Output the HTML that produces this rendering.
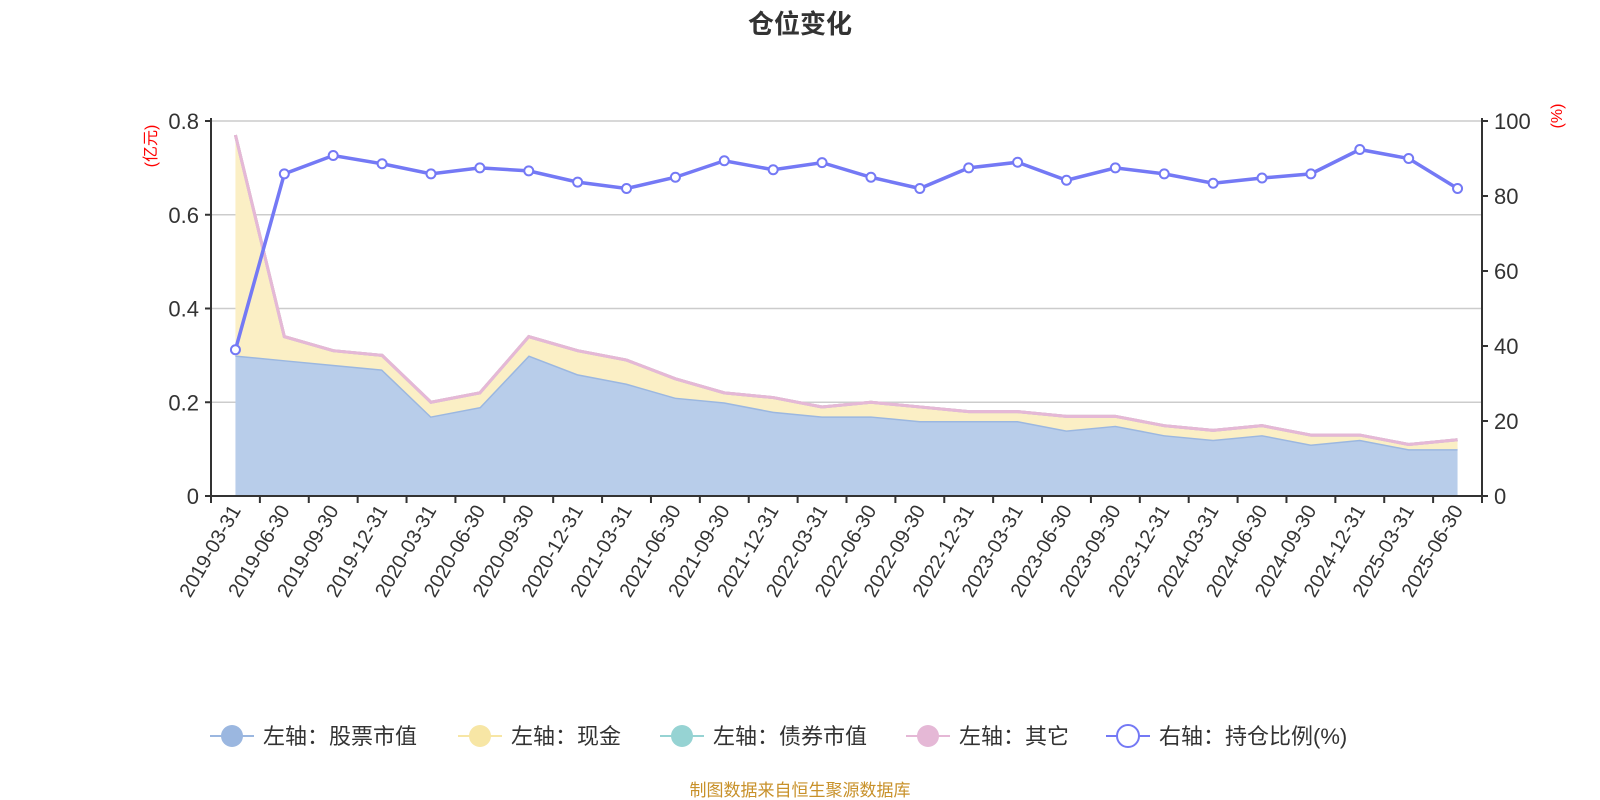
<!DOCTYPE html>
<html><head><meta charset="utf-8"><style>
body{margin:0;background:#fff;}
svg{display:block;font-family:"Liberation Sans","Noto Sans CJK SC",sans-serif;}
</style></head><body>
<svg id="c" width="1600" height="800" viewBox="0 0 1600 800" xmlns="http://www.w3.org/2000/svg">
<text x="800" y="33" text-anchor="middle" font-size="26" font-weight="bold" fill="#333">仓位变化</text>
<text transform="translate(156,146) rotate(-90)" text-anchor="middle" font-size="16" fill="#f00">(亿元)</text>
<text transform="translate(1562,116) rotate(-90)" text-anchor="middle" font-size="16" fill="#f00">(%)</text>
<g id="grid"></g><g id="areas"></g><g id="axes"></g><g id="ratio"></g>
<g id="legend"></g>
<text x="800" y="796" text-anchor="middle" font-size="17" fill="#c8912a">制图数据来自恒生聚源数据库</text>
</svg>
<script>
const categories=["2019-03-31","2019-06-30","2019-09-30","2019-12-31","2020-03-31","2020-06-30","2020-09-30","2020-12-31","2021-03-31","2021-06-30","2021-09-30","2021-12-31","2022-03-31","2022-06-30","2022-09-30","2022-12-31","2023-03-31","2023-06-30","2023-09-30","2023-12-31","2024-03-31","2024-06-30","2024-09-30","2024-12-31","2025-03-31","2025-06-30"];
const stockValues=[0.30,0.29,0.28,0.27,0.17,0.19,0.30,0.26,0.24,0.21,0.20,0.18,0.17,0.17,0.16,0.16,0.16,0.14,0.15,0.13,0.12,0.13,0.11,0.12,0.10,0.10];
const cashValues=[0.47,0.05,0.03,0.03,0.03,0.03,0.04,0.05,0.05,0.04,0.02,0.03,0.02,0.03,0.03,0.02,0.02,0.03,0.02,0.02,0.02,0.02,0.02,0.01,0.01,0.02];
const bondValues=new Array(26).fill(0);
const otherValues=new Array(26).fill(0);
const ratioValues=[39,85.9,90.8,88.6,85.9,87.5,86.7,83.7,82,85,89.4,87,88.9,85,82,87.5,89,84.2,87.5,85.9,83.4,84.8,85.9,92.4,90,82];
const leftTicks=[0,0.2,0.4,0.6,0.8];
const rightTicks=[0,20,40,60,80,100];
const NS="http://www.w3.org/2000/svg";
const L=211,R=1482,T=121,B=496;
const band=(R-L)/categories.length;
const xs=i=>L+band*(i+0.5);
const yl=v=>B-(v/0.8)*(B-T);
const yr=v=>B-(v/100)*(B-T);
function mk(tag,attrs,parent){const e=document.createElementNS(NS,tag);for(const k in attrs)e.setAttribute(k,attrs[k]);parent.appendChild(e);return e;}
const grid=document.getElementById('grid'),axes=document.getElementById('axes'),areas=document.getElementById('areas'),ratio=document.getElementById('ratio'),legend=document.getElementById('legend');
leftTicks.forEach(v=>{
  if(v>0){const g=mk('line',{x1:L,x2:R,y1:yl(v),y2:yl(v),stroke:'#ccc','stroke-width':1.5},grid);
  
  }
  const t=mk('text',{x:L-12,y:yl(v)+8,'text-anchor':'end','font-size':22,fill:'#333'},axes);t.textContent=v;
  
  
  mk('line',{x1:L-6,x2:L,y1:yl(v),y2:yl(v),stroke:'#333','stroke-width':2},axes);
});
rightTicks.forEach(v=>{
  const t=mk('text',{x:R+12,y:yr(v)+8,'font-size':22,fill:'#333'},axes);t.textContent=v;
  
  
  mk('line',{x1:R,x2:R+6,y1:yr(v),y2:yr(v),stroke:'#333','stroke-width':2},axes);
});
mk('line',{x1:L,x2:L,y1:T-3,y2:B,stroke:'#333','stroke-width':2},axes);
mk('line',{x1:R,x2:R,y1:T-3,y2:B,stroke:'#333','stroke-width':2},axes);
mk('line',{x1:L,x2:R,y1:B,y2:B,stroke:'#333','stroke-width':2},axes);
for(let i=0;i<=categories.length;i++){mk('line',{x1:L+band*i,x2:L+band*i,y1:B,y2:B+7,stroke:'#333','stroke-width':2},axes);}
categories.forEach((c,i)=>{
  const t=mk('text',{transform:`translate(${xs(i)+6},${B+14}) rotate(-60)`,'text-anchor':'end','font-size':20,fill:'#333'},axes);t.textContent=c;
  
  
});
// stacked areas
const series=[[stockValues,'#b8cdea','#9bb7e0','stock-area'],[cashValues,'#fbefc5','#f7e6a5','cash-area'],[bondValues,'#b6e2e2','#96d3d3','bond-area'],[otherValues,'#f1d3e6','#e5b8d6','other-area']];
let base=new Array(categories.length).fill(0);
series.forEach(([vals,fill,stroke,name])=>{
  const top=vals.map((v,i)=>base[i]+v);
  let d='M'+top.map((v,i)=>xs(i)+','+yl(v)).join('L');
  let back=base.map((v,i)=>xs(i)+','+yl(v)).reverse().join('L');
  const p=mk('path',{d:d+'L'+back+'Z',fill:fill},areas);
  
  
  const ln=mk('path',{d:d,fill:'none',stroke:stroke,'stroke-width':3},areas);
  
  
  base=top;
});
const tl=mk('path',{d:'M'+base.map((v,i)=>xs(i)+','+yl(v)).join('L'),fill:'none',stroke:'#e5b8d6','stroke-width':3},areas);


const rl=mk('path',{d:'M'+ratioValues.map((v,i)=>xs(i)+','+yr(v)).join('L'),fill:'none',stroke:'#7479f5','stroke-width':3.5},ratio);


ratioValues.forEach((v,i)=>{
  const c=mk('circle',{cx:xs(i),cy:yr(v),r:4.5,fill:'#fff',stroke:'#7479f5','stroke-width':2},ratio);
  
  
});
const items=[['左轴：股票市值','#9bb7e0',false,210],['左轴：现金','#f7e6a5',false,458],['左轴：债券市值','#96d3d3',false,660],['左轴：其它','#e5b8d6',false,906],['右轴：持仓比例(%)','#7479f5',true,1106]];
items.forEach(([label,col,hollow,x])=>{
  const g=mk('g',{},legend);
  
  
  mk('line',{x1:x,x2:x+44,y1:736,y2:736,stroke:col,'stroke-width':2},g);
  mk('circle',{cx:x+22,cy:736,r:hollow?11:11,fill:hollow?'#fff':col,stroke:col,'stroke-width':hollow?2:0},g);
  const t=mk('text',{x:x+53,y:744,'font-size':22,fill:'#333'},g);t.textContent=label;
});
</script>
</body></html>
